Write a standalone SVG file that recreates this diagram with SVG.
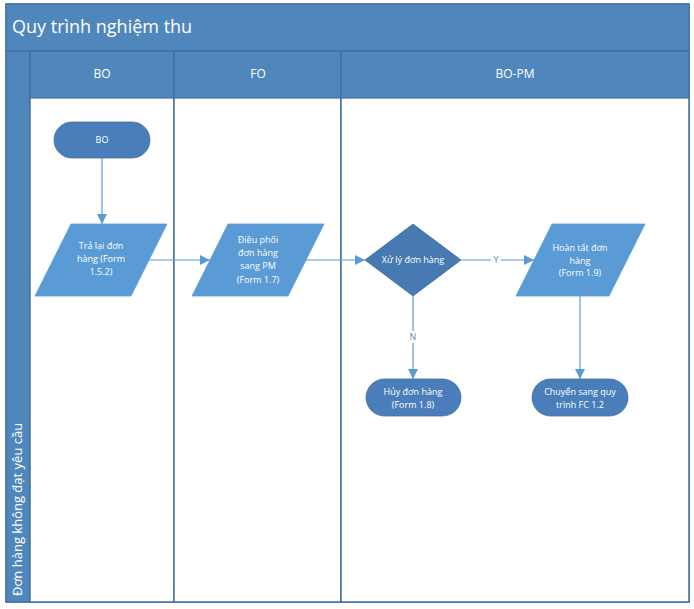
<svg xmlns="http://www.w3.org/2000/svg" width="694" height="609" viewBox="0 0 694 609">
<style>
.band{fill:#4F87BD;stroke:#41719C;stroke-width:1.2}
.lane{fill:#FFFFFF;stroke:#41719C;stroke-width:1.5}
.hdr{font-family:"Open Sans","Noto Sans",sans-serif;font-size:12px;fill:#FFFFFF;text-anchor:middle}
.title{font-family:"Open Sans","Noto Sans",sans-serif;font-size:18px;fill:#FFFFFF}
.term{fill:#4A7EBB;stroke:#41719C;stroke-width:0.8}
.io{fill:#5B9BD5;stroke:#5B9BD5;stroke-width:0.8}
.dec{fill:#4779B2;stroke:#41719C;stroke-width:0.8}
.t{font-family:"Open Sans","Noto Sans",sans-serif;font-size:9px;fill:#FFFFFF;text-anchor:middle}
.lbl{font-family:"Open Sans","Noto Sans",sans-serif;font-size:9px;fill:#5B8AC0;text-anchor:middle}
.c{stroke:#5B9BD5;stroke-width:1.2;fill:none;marker-end:url(#ah)}
</style>
<defs>
<marker id="ah" viewBox="0 0 10 10" refX="10" refY="5" markerWidth="10" markerHeight="10" markerUnits="userSpaceOnUse" orient="auto">
<path d="M0,0 L10,5 L0,10 z" fill="#5B9BD5"/>
</marker>
</defs>
<g id="pool">
<rect class="lane" x="6" y="4" width="683" height="598"/>
<rect class="band" x="6" y="4" width="683" height="47"/>
<text class="title" x="12" y="33">Quy trình nghiệm thu</text>
<rect class="band" x="6" y="51" width="24" height="551"/>
<text class="hdr" transform="translate(22,596) rotate(-90)" style="text-anchor:start;font-size:13px">Đơn hàng không đạt yêu cầu</text>
</g>
<g id="lane-bo">
<rect class="lane" x="30" y="51" width="144" height="551"/>
<rect class="band" x="30" y="51" width="144" height="47"/>
<text class="hdr" x="102" y="78">BO</text>
</g>
<g id="lane-fo">
<rect class="lane" x="174" y="51" width="167" height="551"/>
<rect class="band" x="174" y="51" width="167" height="47"/>
<text class="hdr" x="258" y="78">FO</text>
</g>
<g id="lane-bopm">
<rect class="lane" x="341" y="51" width="348" height="551"/>
<rect class="band" x="341" y="51" width="348" height="47"/>
<text class="hdr" x="515" y="78">BO-PM</text>
</g>
<g id="connectors">
<line class="c" x1="102" y1="158" x2="102" y2="224"/>
<line class="c" x1="149" y1="260" x2="210" y2="260"/>
<line class="c" x1="306" y1="260" x2="365" y2="260"/>
<line class="c" x1="461" y1="260" x2="534" y2="260"/>
<line class="c" x1="413" y1="296" x2="413" y2="379"/>
<line class="c" x1="580" y1="296" x2="580" y2="379"/>
<rect x="491" y="254" width="10" height="12" fill="#FFFFFF"/>
<text class="lbl" x="496" y="263">Y</text>
<rect x="408" y="331" width="10" height="12" fill="#FFFFFF"/>
<text class="lbl" x="413" y="340">N</text>
</g>
<g id="n-bo">
<rect class="term" x="54" y="122" width="96" height="36" rx="18"/>
<text class="t" x="102" y="143">BO</text>
</g>
<g id="n-tralai">
<polygon class="io" points="71,224 167,224 131,296 35,296"/>
<text class="t" x="101" y="249">Trả lại đơn</text>
<text class="t" x="101" y="262">hàng (Form</text>
<text class="t" x="101" y="275">1.5.2)</text>
</g>
<g id="n-dieuphoi">
<polygon class="io" points="228,224 324,224 288,296 192,296"/>
<text class="t" x="258" y="243">Điều phối</text>
<text class="t" x="258" y="256">đơn hàng</text>
<text class="t" x="258" y="269">sang PM</text>
<text class="t" x="258" y="283">(Form 1.7)</text>
</g>
<g id="n-xuly">
<polygon class="dec" points="413,224 461,260 413,296 365,260"/>
<text class="t" x="413" y="263">Xử lý đơn hàng</text>
</g>
<g id="n-hoantat">
<polygon class="io" points="552,224 645,224 609,296 516,296"/>
<text class="t" x="580" y="251">Hoàn tất đơn</text>
<text class="t" x="580" y="264">hàng</text>
<text class="t" x="580" y="276">(Form 1.9)</text>
</g>
<g id="n-huy">
<rect class="term" x="366" y="379" width="95" height="37" rx="18.5"/>
<text class="t" x="413" y="395">Hủy đơn hàng</text>
<text class="t" x="413" y="408">(Form 1.8)</text>
</g>
<g id="n-chuyen">
<rect class="term" x="532" y="379" width="96" height="37" rx="18.5"/>
<text class="t" x="580" y="395">Chuyển sang quy</text>
<text class="t" x="580" y="408">trình FC 1.2</text>
</g>
</svg>
